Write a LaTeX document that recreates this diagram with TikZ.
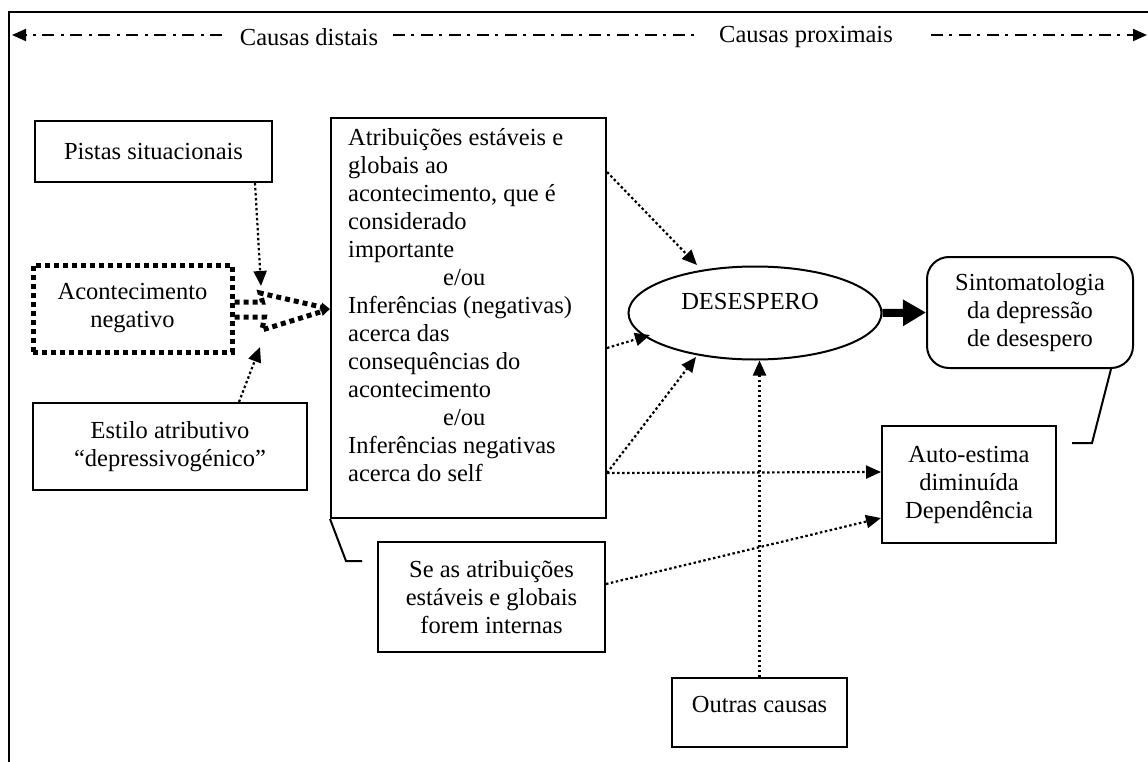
\documentclass[tikz,border=0pt]{standalone}
\usepackage{fontspec}
\setmainfont{Liberation Serif}
\usetikzlibrary{arrows.meta,shapes.geometric,calc}
\begin{document}
\begin{tikzpicture}[x=1pt,y=-1pt,
  every node/.style={font=\fontsize{24.5}{28}\selectfont},
  box/.style={draw,line width=2pt,inner sep=0pt,align=center},
  bigdots/.style={line width=5pt,dash pattern=on 5pt off 4pt},
  thindots/.style={line width=2.2pt,dash pattern=on 2.5pt off 2.5pt},
  dashdot/.style={line width=2pt,dash pattern=on 12pt off 6pt on 3pt off 7pt},
  tipthin/.style={-{Triangle[length=15pt,width=13pt]}},
  tipsmall/.style={-{Triangle[length=9pt,width=8pt]}},
  tiptop/.style={-{Triangle[length=14pt,width=12pt]}},
  tipbig/.style={-{Triangle[length=23pt,width=25pt]}},
  txt/.style={inner sep=0pt,align=center}
]
\useasboundingbox (0,0) rectangle (1148,762);
\fill[white] (0,0) rectangle (1148,762);

% outer frame (top and left sides)
\draw[line width=2pt] (9,762) -- (9,12) -- (1148,12);

% distal / proximal axis
\node[txt] (distais) at (309,37) {Causas distais};
\node[txt] (proximais) at (806,37) {Causas proximais};
\coordinate (axisleft) at (12,35);
\coordinate (axisright) at (1147,35);
\draw[dashdot,tiptop] ($(distais.west)+(-18,-2)$) -- (axisleft);
\draw[dashdot] ($(distais.east)+(15,-2)$) -- ($(proximais.west)+(-20,-2)$);
\draw[dashdot,tiptop] ($(proximais.east)+(38,-2)$) -- (axisright);

% left column
\node[box,minimum width=237pt,minimum height=61pt] (pistas) at (153.5,151.5) {Pistas situacionais};
\node[box,bigdots,minimum width=199pt,minimum height=87pt] (acont) at (132.5,308.5) {Acontecimento\\negativo};
\node[box,minimum width=274pt,minimum height=87pt] (estilo) at (170,446.5) {Estilo atributivo\\“depressivogénico”};

% central box
\node[box,minimum width=275pt,minimum height=400pt] (central) at (468.5,318) {};
\node[anchor=north west,inner sep=0pt,align=left] (centraltxt) at (348,128) {%
Atribuições estáveis e\\
globais ao\\
acontecimento, que é\\
considerado\\
importante\\
\hspace*{95pt}e/ou\\
Inferências (negativas)\\
acerca das\\
consequências do\\
acontecimento\\
\hspace*{95pt}e/ou\\
Inferências negativas\\
acerca do self};

\node[box,minimum width=227pt,minimum height=110pt] (seas) at (491.5,597) {Se as atribuições\\estáveis e globais\\forem internas};

% right part
\node[draw,ellipse,line width=2pt,minimum width=253pt,minimum height=93pt,inner sep=0pt] (desesp) at (755,313) {};
\node[txt] (desesptxt) at (750,302) {DESESPERO};
\node[box,rounded corners=22pt,minimum width=206pt,minimum height=111pt] (sintom) at (1030,312.5) {Sintomatologia\\da depressão\\de desespero};
\node[box,minimum width=174pt,minimum height=117pt] (auto) at (969,484.5) {Auto-estima\\diminuída\\Dependência};
\node[box,minimum width=175pt,minimum height=69pt] (outras) at (759.5,712.5) {};
\node[txt] (outrastxt) at (759.5,705) {Outras causas};

% connectors into the negative event
\coordinate (upjoin) at (260,293);
\coordinate (lowjoin) at (262,330);
\coordinate (inftip) at ($(central.west)+(0,-9)$);
\draw[thindots,tipthin] ($(pistas.south east)+(-18,0)$) -- ($(upjoin)+(1,-7)$);
\draw[thindots,tipthin] ($(estilo.north west)+(207,0)$) -- ($(lowjoin)+(-2,17)$);
\draw[bigdots,tipsmall] ($(acont.east)+(0,-6.5)$) -- ($(acont.east)+(28,-6.5)$) -- (upjoin) -- (inftip);
\draw[bigdots,tipsmall] ($(acont.east)+(0,8.5)$) -- ($(acont.east)+(30,8.5)$) -- (lowjoin) -- (inftip);

% connectors into hopelessness
\draw[thindots,tipthin] ($(central.north east)+(0,55)$) -- ($(desesp.center)+(-58,-48)$);
\draw[thindots,tipthin] ($(central.east)+(0,30)$) -- ($(desesp.center)+(-105,22)$);
\draw[thindots,tipthin] ($(central.south east)+(0,-46)$) -- ($(desesp.center)+(-59,44)$);
\draw[thindots,tipthin] (outras.north) -- (outras.north |- desesp.south);

% connectors into self-esteem
\draw[thindots,tipthin] ($(central.south east)+(0,-46)$) -- ($(auto.west)+(0,-12.5)$);
\draw[thindots,tipthin] ($(seas.east)+(0,-13)$) -- ($(auto.west)+(0,33.5)$);

% hopelessness to symptoms
\draw[line width=8pt,tipbig] (desesp.east) -- (sintom.west);

% callout lines
\draw[line width=2pt] (central.south west) -- ($(seas.north west)+(-31,20)$) -- ($(seas.north west)+(-15,20)$);
\draw[line width=2pt] ($(sintom.south east)+(-23,0)$) -- ($(auto.north east)+(35,18)$) -- ($(auto.north east)+(15,18)$);
\end{tikzpicture}
\end{document}
